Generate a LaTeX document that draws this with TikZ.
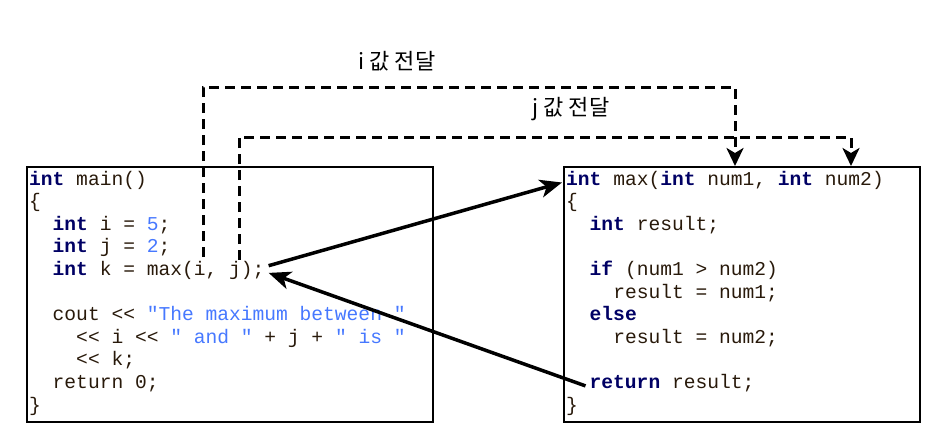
\documentclass[tikz,border=0pt]{standalone}
\usepackage{fontspec}
\setmonofont{Liberation Mono}
\newfontfamily\krfont{Noto Sans CJK KR}
\usepackage{xcolor}
\usetikzlibrary{arrows.meta}
\definecolor{codekw}{RGB}{0,0,100}
\definecolor{codetxt}{RGB}{40,25,10}
\definecolor{codelit}{RGB}{70,120,255}
\newcommand\kw[1]{\textcolor{codekw}{\textbf{#1}}}
\newcommand\lit[1]{\textcolor{codelit}{#1}}

\begin{document}
\begin{tikzpicture}[
  x=1pt, y=-1pt,
  codebox/.style={draw, line width=2pt, minimum height=255pt, inner sep=0pt},
  codeln/.style={anchor=base west, inner xsep=4pt, inner ysep=2pt,
    text height=0.75em, text depth=0.25em, text=codetxt,
    font=\ttfamily\fontsize{19.6}{22.6}\selectfont},
  passlbl/.style={font=\krfont\fontsize{22}{26}\selectfont},
  pass/.style={line width=3pt, dash pattern=on 10pt off 6pt,
    -{Stealth[length=18pt, width=17pt, inset=5pt]}},
  callarr/.style={line width=3.5pt, -{Stealth[length=22pt, width=18pt, inset=6pt]}}
]
\useasboundingbox (0,0) rectangle (935,439);
\node[codebox, minimum width=406pt] (mainfn) at (230,294.5) {};
\node[codebox, minimum width=356pt] (maxfn) at (742,294.5) {};
% main()
\node[codeln] (mainhdr) at (25,185) {\kw{int} main()};
\node[codeln] (mainopen) at (25,207.6) {\{};
\node[codeln] (seti) at (25,230.2) {\ \ \kw{int} i = \lit{5};};
\node[codeln] (setj) at (25,252.8) {\ \ \kw{int} j = \lit{2};};
\node[codeln] (callk) at (25,275.4) {\ \ \kw{int} k = max(i, j);};
\node[codeln] (cout) at (25,320.6) {\ \ cout << \lit{"The maximum between "}};
\node[codeln] (coutij) at (25,343.2) {\ \ \ \ << i << \lit{" and "} + j + \lit{" is "}};
\node[codeln] (coutk) at (25,365.8) {\ \ \ \ << k;};
\node[codeln] (mainret) at (25,388.4) {\ \ return 0;};
\node[codeln] (mainclose) at (25,411) {\}};
% max()
\node[codeln] (maxhdr) at (562,185) {\kw{int} max(\kw{int} num1, \kw{int} num2)};
\node[codeln] (maxopen) at (562,207.6) {\{};
\node[codeln] (decl) at (562,230.2) {\ \ \kw{int} result;};
\node[codeln] (test) at (562,275.4) {\ \ \kw{if} (num1 > num2)};
\node[codeln] (takeone) at (562,298) {\ \ \ \ result = num1;};
\node[codeln] (other) at (562,320.6) {\ \ \kw{else}};
\node[codeln] (taketwo) at (562,343.2) {\ \ \ \ result = num2;};
\node[codeln] (ret) at (585.5,388.4) {\kw{return} result;};
\node[codeln] (maxclose) at (562,411) {\}};
% passing the arguments
\node[passlbl] (ilbl) at (397,61) {i 값 전달};
\node[passlbl] (jlbl) at (571,109) {j 값 전달};
\coordinate (argi) at (203,257);
\coordinate (argj) at (239,260);
\coordinate (ilane) at (735,87);
\coordinate (jlane) at (851,137);
\draw[pass] (argi) |- (ilane) -- (ilane |- maxfn.north);
\draw[pass] (argj) |- (jlane) -- (jlane |- maxfn.north);
% call and return
\draw[callarr] (callk.north east) -- (maxhdr.west);
\draw[callarr] (ret.west) -- (callk.east);
\end{tikzpicture}
\end{document}
